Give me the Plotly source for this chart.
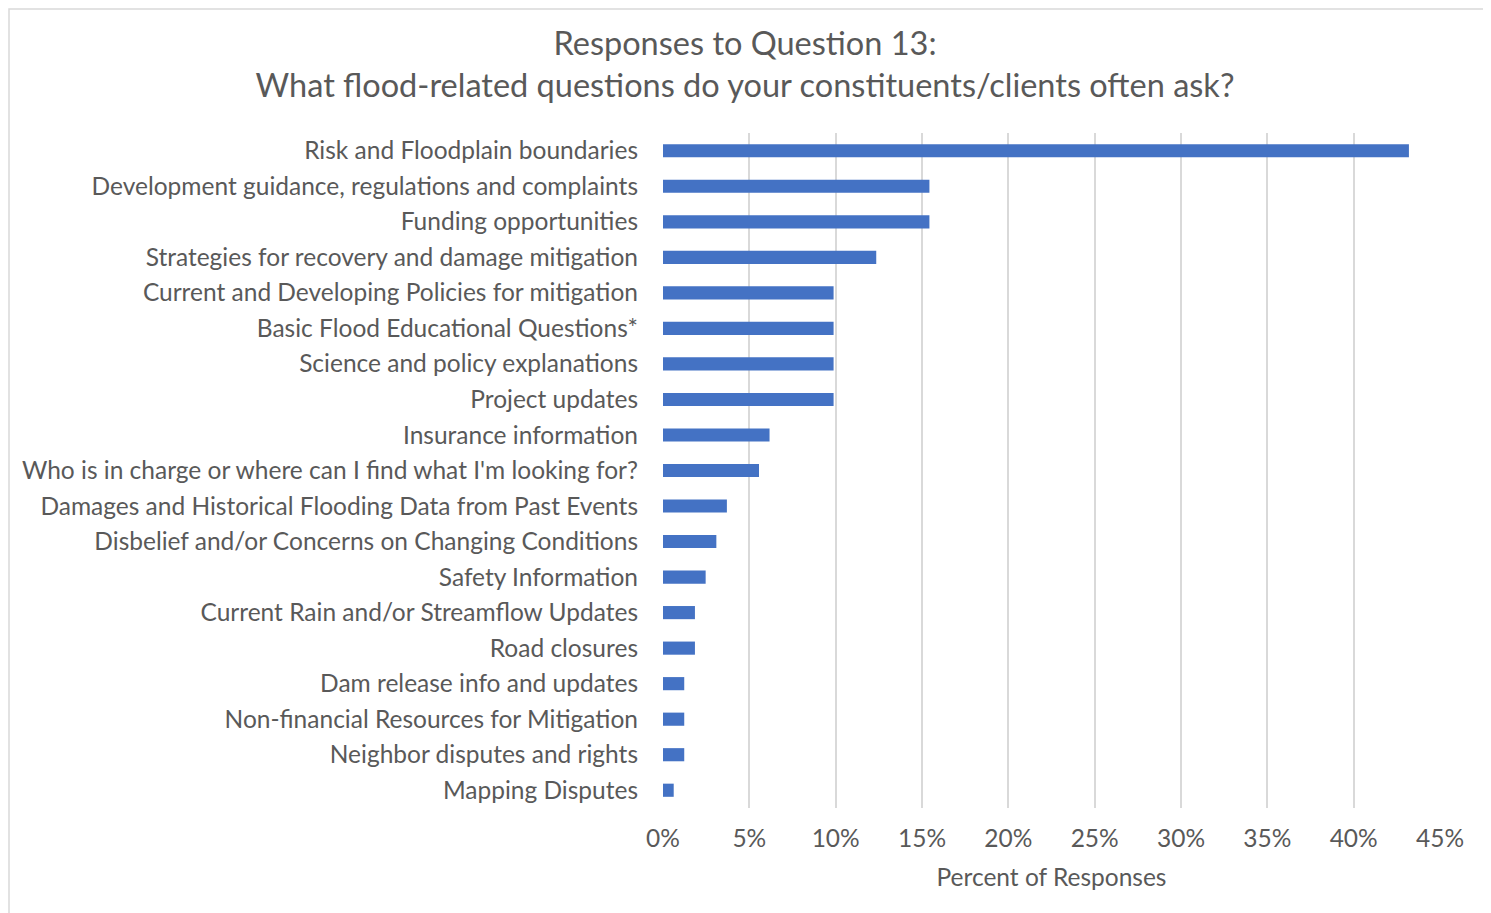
import plotly.graph_objects as go

categories = [
    "Risk and Floodplain boundaries",
    "Development guidance, regulations and complaints",
    "Funding opportunities",
    "Strategies for recovery and damage mitigation",
    "Current and Developing Policies for mitigation",
    "Basic Flood Educational Questions*",
    "Science and policy explanations",
    "Project updates",
    "Insurance information",
    "Who is in charge or where can I find what I'm looking for?",
    "Damages and Historical Flooding Data from Past Events",
    "Disbelief and/or Concerns on Changing Conditions",
    "Safety Information",
    "Current Rain and/or Streamflow Updates",
    "Road closures",
    "Dam release info and updates",
    "Non-financial Resources for Mitigation",
    "Neighbor disputes and rights",
    "Mapping Disputes",
]
percent = [43.2, 15.43, 15.43, 12.35, 9.88, 9.88, 9.88, 9.88, 6.17, 5.56,
           3.70, 3.09, 2.47, 1.85, 1.85, 1.23, 1.23, 1.23, 0.62]
tick_vals = [0, 5, 10, 15, 20, 25, 30, 35, 40, 45]
tick_text = [f"{v}%" for v in tick_vals]

W, H = 1491, 913
OFF = 8  # page body margin
L, R, T, B = 663 - OFF, 59, 133 - OFF, 113
PW, PH = W - L - R, H - T - B
FONT = "Lato"
GREY = "#595959"

fig = go.Figure(go.Bar(
    y=categories, x=percent, orientation="h",
    marker=dict(color="#4472C4", line=dict(width=0)),
    hovertemplate="%{y}: %{x:.1f}%<extra></extra>",
))

fig.update_layout(
    width=W, height=H,
    margin=dict(l=L, r=R, t=T, b=B),
    paper_bgcolor="white", plot_bgcolor="white",
    bargap=0.63,
    showlegend=False,
    font=dict(family=FONT, color=GREY, size=24.5),
    title=dict(
        text="Responses to Question 13:<br>What flood-related questions do your constituents/clients often ask?",
        x=(745 - OFF) / W, xanchor="center", xref="container",
        y=1 - (55 - OFF) / H, yanchor="middle", yref="container",
        font=dict(family=FONT, size=32.5, color=GREY),
    ),
)
fig.update_xaxes(
    range=[0, 45], tickvals=tick_vals, ticktext=tick_text,
    showgrid=True, gridcolor="#d9d9d9", gridwidth=1.5,
    zeroline=False, showline=False,
    ticks="", ticklabelstandoff=13,
    title=dict(text="Percent of Responses", standoff=18, font=dict(size=24.5)),
    fixedrange=True,
)
fig.update_yaxes(
    autorange="reversed", showgrid=False, zeroline=False,
    showline=False, ticks="", ticklabelstandoff=24,
    fixedrange=True,
)
# chart frame (kept just inside the figure area)
fig.add_shape(
    type="rect", xref="paper", yref="paper",
    x0=(1 - L) / PW, x1=(1477 - L) / PW,
    y0=(PH + T - 925) / PH, y1=(PH + T - 1) / PH,
    line=dict(color="#d9d9d9", width=1.5), layer="below",
)

fig.write_html("out.html")
